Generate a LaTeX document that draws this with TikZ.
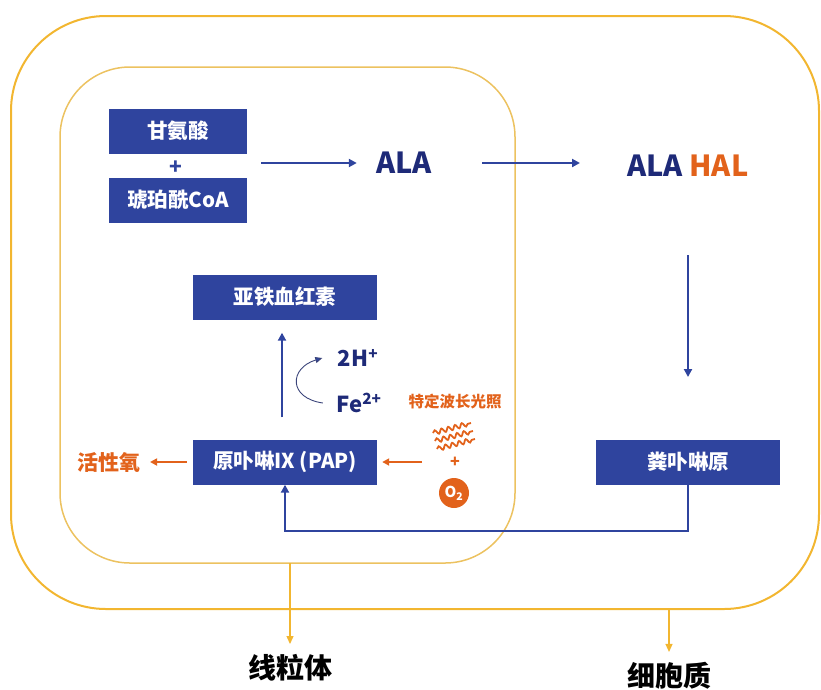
\documentclass[tikz,border=0pt]{standalone}
\usepackage{fontspec}
\setmainfont{Noto Sans CJK SC}
\usetikzlibrary{arrows.meta,decorations.pathmorphing}
\definecolor{boxblue}{RGB}{47,68,158}
\definecolor{navy}{RGB}{30,42,120}
\definecolor{orng}{RGB}{226,98,27}
\definecolor{gold}{RGB}{242,182,48}
\definecolor{lightgold}{RGB}{236,194,96}
\begin{document}
\begin{tikzpicture}[x=1pt,y=-1pt,
  box/.style={fill=boxblue,text=white,minimum width=138pt,minimum height=45pt,inner sep=0pt,font=\bfseries\fontsize{20.5}{22}\selectfont},
  bluearr/.style={draw=boxblue,line width=2.2pt,-{Triangle[length=8pt,width=8pt]}},
  orarr/.style={draw=orng,line width=2.2pt,-{Triangle[length=7pt,width=7pt]}},
  goldarr/.style={draw=gold,line width=1.2pt,-{Triangle[length=8pt,width=7pt]}},
  curvearr/.style={draw=navy!70!gray,line width=0.9pt,-{Triangle[length=7pt,width=6pt,fill=boxblue]}}]
\useasboundingbox (0,0) rectangle (821,689);
% cell and mitochondrion
\draw[gold,line width=2pt,rounded corners=95pt] (11,16) rectangle (819,609);
\draw[lightgold,line width=1.5pt,rounded corners=70pt] (60,67) rectangle (515,563);
% nodes
\node[box] (gly) at (178,131) {甘氨酸};
\node[text=boxblue,font=\bfseries\fontsize{21}{21}\selectfont] (plus) at (176,168) {+};
\node[box] (suc) at (178,200) {琥珀酰CoA};
\node[text=navy,font=\bfseries\fontsize{29}{30}\selectfont] (ala) at (404,163) {ALA};
\node[text=navy,font=\bfseries\fontsize{29}{30}\selectfont] (alahal) at (688,166) {ALA \textcolor{orng}{HAL}};
\node[box,minimum width=184pt] (heme) at (285,297) {亚铁血红素};
\node[box,minimum width=184pt] (pap) at (285,462) {原卟啉IX (PAP)};
\node[box,minimum width=184pt] (cop) at (688,462) {粪卟啉原};
\node[text=orng,font=\bfseries\fontsize{21}{21}\selectfont] (ros) at (109,462) {活性氧};
\node[text=navy,font=\bfseries\fontsize{22}{22}\selectfont] (hh) at (358,358) {2H\textsuperscript{+}};
\node[text=navy,font=\bfseries\fontsize{22}{22}\selectfont] (fe) at (359,403) {Fe\textsuperscript{2+}};
\node[text=orng,font=\bfseries\fontsize{15.5}{16}\selectfont] (light) at (455,402) {特定波长光照};
\node[text=orng,font=\bfseries\fontsize{16}{16}\selectfont] (plusb) at (455,462) {+};
\node[circle,fill=orng,text=white,minimum size=30pt,inner sep=0pt,font=\bfseries\fontsize{15}{15}\selectfont] (otwo) at (454,493) {O\textsubscript{2}};
\node[font=\bfseries\fontsize{28}{28}\selectfont] (mito) at (290,668) {线粒体};
\node[font=\bfseries\fontsize{28}{28}\selectfont] (cyto) at (669,676) {细胞质};
% light
\foreach \k in {0,1,2}
{
\draw[orng,line width=1.8pt,decorate,decoration={snake,amplitude=2.2pt,segment length=7pt}] ({433+\k*2},{433+\k*8}) -- ({471+\k*2},{423+\k*8});
}
% arrows
\draw[bluearr] ([xshift=14pt]ala.west -| gly.east) -- ([xshift=-16pt]ala.west);
\draw[bluearr] ([xshift=47pt]ala.east) -- ([xshift=-44pt]alahal.west |- ala.east);
\draw[bluearr,shorten <=89pt,shorten >=85pt] (alahal.center) -- (cop.center);
\draw[bluearr] (cop.south) -- ++(0,46) -| (pap.south);
\draw[bluearr,shorten <=22pt,shorten >=13pt] ([xshift=-3pt]pap.north) -- ([xshift=-3pt]heme.south);
\draw[curvearr] ([xshift=-10pt]fe.west) .. controls +(-35,-5) and +(-33,10) .. ([xshift=-12pt]hh.west);
\draw[orarr,shorten <=6pt,shorten >=6pt] (pap.west) -- (ros.east);
\coordinate (lightin) at (422,462);
\draw[orarr] (lightin) -- ([xshift=5pt]pap.east);
\coordinate (mitob) at (290,563);
\coordinate (cytob) at (669,609);
\draw[goldarr,shorten >=7pt] (mitob) -- (mito.north);
\draw[goldarr,shorten >=7pt] (cytob) -- (cyto.north);
\end{tikzpicture}
\end{document}
